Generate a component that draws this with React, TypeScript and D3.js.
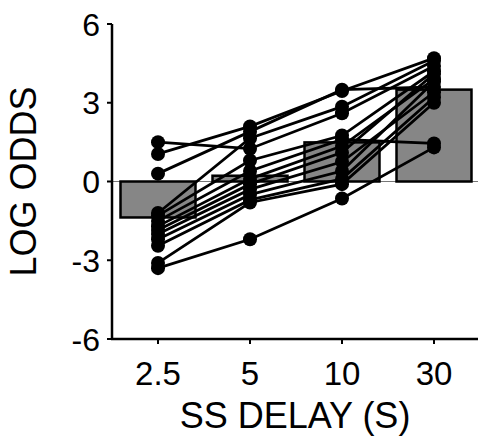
import React from "react";
import * as d3 from "d3";

const categories = ["2.5", "5", "10", "30"];
const meanValues = [-1.37, 0.22, 1.49, 3.5];
const yTicks = [-6, -3, 0, 3, 6];

// each subject: values at 2.5, 5, 10, 30
const subjects: number[][] = [
  [1.5, 1.25, 2.6, 4.4],
  [1.05, 2.1, 3.45, 4.7],
  [0.3, 1.9, 3.5, 3.6],
  [-1.2, 1.65, 2.85, 4.6],
  [-1.3, 0.8, 1.75, 4.2],
  [-1.5, 0.4, 1.6, 1.45],
  [-1.7, 0.1, 1.35, 3.9],
  [-1.85, -0.1, 1.1, 4.1],
  [-2.0, -0.3, 0.75, 3.4],
  [-2.2, -0.5, 0.4, 3.8],
  [-2.45, -0.7, 0.1, 3.2],
  [-3.1, -0.8, -0.1, 3.0],
  [-3.3, -2.2, -0.65, 1.3],
];

const W = 478;
const H = 437;
const left = 112;
const right = 480;
const top = 24;
const bottom = 339;

export default function App() {
  const x = d3
    .scaleBand<string>()
    .domain(categories)
    .range([left, right])
    .paddingInner(0.185)
    .paddingOuter(0.0925);
  const y = d3.scaleLinear().domain([-6, 6]).range([bottom, top]);
  const cx = (c: string) => (x(c) as number) + x.bandwidth() / 2;
  const line = d3
    .line<number>()
    .x((_, i) => cx(categories[i]))
    .y((v) => y(v));
  const font = "'Liberation Sans', Arial, sans-serif";

  return (
    <svg
      width={W}
      height={H}
      style={{ position: "absolute", left: 0, top: 0, background: "#fff" }}
      fontFamily={font}
    >
      {/* zero line */}
      <line x1={left} x2={W} y1={y(0)} y2={y(0)} stroke="#777" strokeWidth={1} />
      {/* bars */}
      {categories.map((c, i) => (
        <rect
          key={c}
          x={x(c)}
          width={x.bandwidth()}
          y={Math.min(y(0), y(meanValues[i]))}
          height={Math.abs(y(0) - y(meanValues[i]))}
          fill="#868686"
          stroke="#000"
          strokeWidth={2.5}
        />
      ))}
      {/* subject lines */}
      {subjects.map((s, k) => (
        <path key={k} d={line(s) as string} fill="none" stroke="#000" strokeWidth={2.8} />
      ))}
      {/* dots */}
      {subjects.map((s, k) =>
        s.map((v, i) => (
          <circle key={k + "-" + i} cx={cx(categories[i])} cy={y(v)} r={7} fill="#000" />
        ))
      )}
      {/* axes */}
      <line x1={left} x2={left} y1={top} y2={bottom + 1} stroke="#000" strokeWidth={2.5} />
      <line x1={left - 1} x2={W} y1={bottom} y2={bottom} stroke="#000" strokeWidth={2.5} />
      {yTicks.map((t) => (
        <g key={t}>
          <line x1={left - 5} x2={left} y1={y(t)} y2={y(t)} stroke="#000" strokeWidth={2} />
          <text
            x={left - 12}
            y={y(t)}
            dy="0.36em"
            textAnchor="end"
            fontSize={32}
            fill="#000"
          >
            {t}
          </text>
        </g>
      ))}
      {categories.map((c) => (
        <g key={c}>
          <line x1={cx(c)} x2={cx(c)} y1={bottom} y2={bottom + 5} stroke="#000" strokeWidth={2} />
          <text x={cx(c)} y={385} textAnchor="middle" fontSize={33} fill="#000">
            {c}
          </text>
        </g>
      ))}
      <text x={295} y={428} textAnchor="middle" fontSize={36} fill="#000">
        SS DELAY (S)
      </text>
      <text
        transform={`translate(36,${y(0)}) rotate(-90)`}
        textAnchor="middle"
        fontSize={36}
        fill="#000"
      >
        LOG ODDS
      </text>
    </svg>
  );
}
